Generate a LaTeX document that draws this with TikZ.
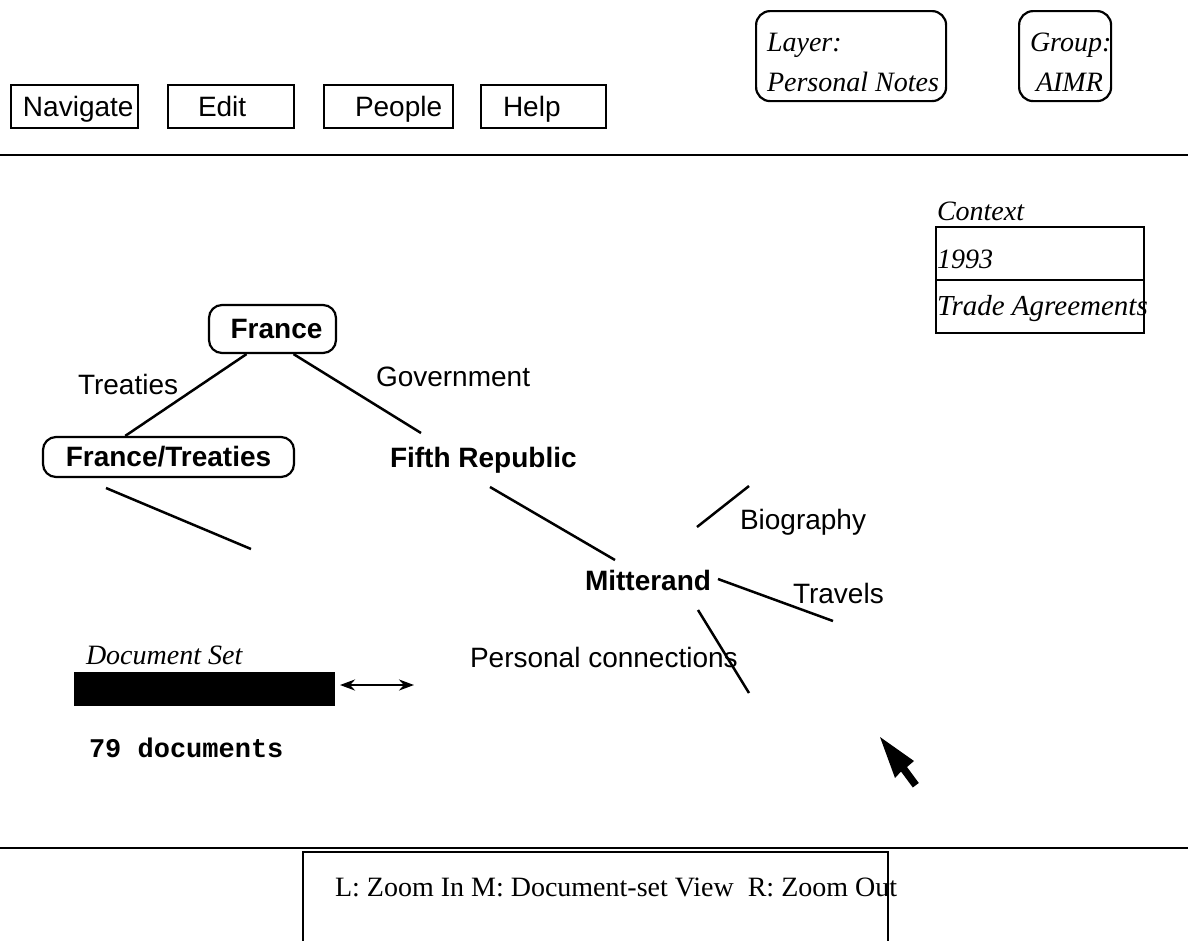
\documentclass[tikz,border=0pt]{standalone}
\usepackage{fontspec}
\setmainfont{Liberation Serif}
\setsansfont{Liberation Sans}
\setmonofont{Liberation Mono}
\usetikzlibrary{arrows.meta}
\begin{document}
\begin{tikzpicture}[x=1pt,y=-1pt,
  txt/.style={anchor=base west,inner sep=0pt,outer sep=0pt},
  sf/.style={txt,font=\fontsize{28}{32}\selectfont\sffamily},
  sfb/.style={txt,font=\fontsize{28}{32}\selectfont\sffamily\bfseries},
  itx/.style={txt,font=\fontsize{28}{32}\selectfont\itshape},
  rmx/.style={txt,font=\fontsize{28}{32}\selectfont},
  mono/.style={txt,font=\fontsize{27}{30}\selectfont\ttfamily\bfseries},
  btn/.style={draw,line width=2pt,anchor=north west,inner sep=0pt,minimum height=43pt},
  rbox/.style={draw,line width=2.2pt,rounded corners=14pt,anchor=north west,inner sep=0pt},
  conn/.style={line width=2.5pt}]
\useasboundingbox (0,0) rectangle (1188,940);

% menu buttons
\node[btn,minimum width=127pt] (navbox) at (10,84) {};
\node[btn,minimum width=126pt] (editbox) at (167,84) {};
\node[btn,minimum width=129pt] (peoplebox) at (323,84) {};
\node[btn,minimum width=125pt] (helpbox) at (480,84) {};
\node[sf] (nav) at (23,116) {Navigate};
\node[sf] (edit) at (198,116) {Edit};
\node[sf] (people) at (355,116) {People};
\node[sf] (help) at (503,116) {Help};

% layer / group
\node[rbox,minimum width=190pt,minimum height=90pt] (layerbox) at (755,10) {};
\node[rbox,minimum width=92pt,minimum height=90pt] (groupbox) at (1018,10) {};
\node[itx] (layer1) at (767,51) {Layer:};
\node[itx] (layer2) at (767,91) {Personal Notes};
\node[itx] (group1) at (1030,51) {Group:};
\node[itx] (group2) at (1036,91) {AIMR};

% separators
\coordinate (sepL1) at (0,155);
\coordinate (sepR1) at (1188,155);
\draw[line width=2pt] (sepL1) -- (sepR1);
\coordinate (sepL2) at (0,848);
\coordinate (sepR2) at (1188,848);
\draw[line width=2pt] (sepL2) -- (sepR2);

% context
\node[itx] (context) at (937,220) {Context};
\node[draw,line width=2pt,anchor=north west,minimum width=208pt,minimum height=53pt,inner sep=0pt] (ctx1) at (935,226) {};
\node[draw,line width=2pt,anchor=north west,minimum width=208pt,minimum height=53pt,inner sep=0pt] (ctx2) at (935,279) {};
\node[itx] (y1993) at (937,268) {1993};
\node[itx,font=\fontsize{29}{32}\selectfont\itshape] (trade) at (937,315) {Trade Agreements};

% tree
\node[draw,line width=2.2pt,rounded corners=13pt,minimum width=127pt,minimum height=48pt,inner sep=0pt,
      font=\fontsize{28}{32}\selectfont\sffamily\bfseries] (france) at (272.5,329) {\hspace{8pt}France};
\node[draw,line width=2.2pt,rounded corners=13pt,minimum width=251pt,minimum height=40pt,inner sep=0pt,
      font=\fontsize{28}{32}\selectfont\sffamily\bfseries] (ft) at (168.5,457) {France/Treaties};
\node[sf] (treaties) at (78,394) {Treaties};
\node[sf] (govt) at (376,386) {Government};
\node[sfb] (fifth) at (390,467) {Fifth Republic};
\node[sfb] (mitt) at (585,590) {Mitterand};
\node[sf] (bio) at (740,529) {Biography};
\node[sf] (travels) at (793,603) {Travels};
\node[sf] (pers) at (470,667) {Personal connections};

\coordinate (fifthN) at (421,433);
\coordinate (fifthS) at (490,487);
\coordinate (mittNW) at (615,560);
\coordinate (ftS) at (106,488);
\coordinate (ftEnd) at (251,549);
\coordinate (bioA) at (697,527);
\coordinate (bioB) at (749,486);
\coordinate (travA) at (718,579);
\coordinate (travB) at (833,621);
\coordinate (persA) at (698,610);
\coordinate (persB) at (749,693);

\draw[conn] (france.224) -- (ft.154);
\draw[conn] (france.310) -- (fifthN);
\draw[conn] (ftS) -- (ftEnd);
\draw[conn] (fifthS) -- (mittNW);
\draw[conn] (bioA) -- (bioB);
\draw[conn] (travA) -- (travB);
\draw[conn] (persA) -- (persB);

% document set
\node[itx] (docset) at (86,664) {Document Set};
\node[fill=black,anchor=north west,minimum width=261pt,minimum height=34pt,inner sep=0pt] (docbar) at (74,672) {};
\coordinate (arrStart) at (340,685);
\coordinate (arrEnd) at (414,685);
\draw[line width=2.4pt,{Stealth[length=15pt,width=11pt]}-{Stealth[length=15pt,width=11pt]}] (arrStart) -- (arrEnd);
\node[mono] (ndocs) at (89,757) {79 documents};

% cursor
\fill (880,737) -- (895,778) -- (901,771.5) -- (912.8,787.5) -- (918.8,783) -- (907,767) -- (914,761) -- cycle;

% bottom help box
\coordinate (hb1) at (303,945);
\coordinate (hb2) at (303,852);
\coordinate (hb3) at (888,852);
\coordinate (hb4) at (888,945);
\draw[line width=2pt] (hb1) -- (hb2) -- (hb3) -- (hb4);
\node[rmx] (helptext) at (335,896) {L: Zoom In M: Document-set View\ \ R: Zoom Out};
\end{tikzpicture}
\end{document}
